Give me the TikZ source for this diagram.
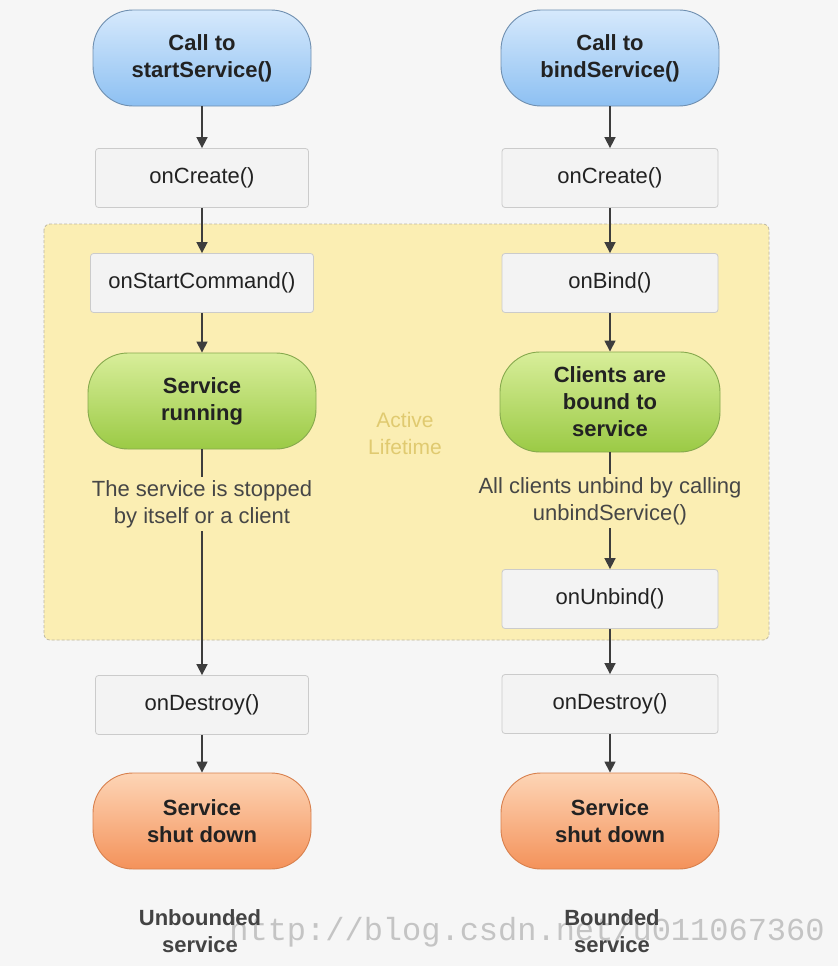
\documentclass[tikz,border=0pt]{standalone}
\usepackage{fontspec}
\setmainfont{Liberation Sans}
\newfontfamily\wmfont{Liberation Mono}
\usetikzlibrary{arrows.meta}

\definecolor{bgcol}{HTML}{F6F6F6}
\definecolor{boxfill}{HTML}{F3F3F3}
\definecolor{boxline}{HTML}{CBCBCB}
\definecolor{txt}{HTML}{222222}
\definecolor{note}{HTML}{464646}
\definecolor{flowcol}{HTML}{3D3D3D}
\definecolor{regionfill}{HTML}{FBEEB3}
\definecolor{regionline}{HTML}{BDB7A2}
\definecolor{regiontxt}{HTML}{E0CA70}
\definecolor{bluetop}{HTML}{D6E9FC}
\definecolor{bluebot}{HTML}{8DC0F2}
\definecolor{blueline}{HTML}{6F8FB0}
\definecolor{greentop}{HTML}{D8EE9A}
\definecolor{greenbot}{HTML}{9BCA45}
\definecolor{greenline}{HTML}{86A94D}
\definecolor{orangetop}{HTML}{FDD5B6}
\definecolor{orangebot}{HTML}{F4925A}
\definecolor{orangeline}{HTML}{D8804D}
\definecolor{wmcol}{HTML}{C4C4C4}

\tikzset{
  box/.style={rectangle,rounded corners=3pt,draw=boxline,line width=0.8pt,fill=boxfill,
    minimum width=213pt,minimum height=59pt,font=\fontsize{22}{27}\selectfont,text=txt},
  pill/.style={rectangle,rounded corners=40pt,line width=0.9pt,minimum width=218pt,
    minimum height=96pt,align=center,font=\fontsize{22}{27}\selectfont\bfseries,text=txt},
  startpill/.style={pill,draw=blueline,top color=bluetop,bottom color=bluebot},
  runpill/.style={pill,draw=greenline,top color=greentop,bottom color=greenbot},
  endpill/.style={pill,draw=orangeline,top color=orangetop,bottom color=orangebot},
  notetext/.style={align=center,font=\fontsize{22}{27}\selectfont,text=note},
  caption/.style={align=center,font=\fontsize{22}{27}\selectfont\bfseries,text=txt!85},
  flow/.style={draw=flowcol,line width=1.6pt},
  region/.style={draw=regionline,fill=regionfill,dashed,dash pattern=on 3pt off 2pt,
    line width=0.8pt,rounded corners=6pt}
}

\begin{document}
\begin{tikzpicture}[x=1pt,y=-1pt,>={Triangle[width=11pt,length=11pt]}]

%BACKGROUND
\fill[bgcol] (0,0) rectangle (838,966);
\useasboundingbox (0,0) rectangle (838,966);
\draw[region] (44,224) rectangle (769,640);
\node[text=regiontxt,align=center,font=\fontsize{21}{27}\selectfont](a1) at (405,433) {Active\\Lifetime};
%BACKGROUND

% started service
\node[startpill](v1) at (202,58) {Call to\\startService()};
\node[box](v2) at (202,178) {onCreate()};
\node[box,minimum width=223pt](v3) at (202,283) {onStartCommand()};
\node[runpill,minimum width=228pt](v4) at (202,401) {Service\\running};
\node[notetext](t1) at (202,504) {The service is stopped\\by itself or a client};
\node[box](v5) at (202,705) {onDestroy()};
\node[endpill](v6) at (202,821) {Service\\shut down};

% bound service
\node[startpill](w1) at (610,58) {Call to\\bindService()};
\node[box,minimum width=216pt](w2) at (610,178) {onCreate()};
\node[box,minimum width=216pt](w3) at (610,283) {onBind()};
\node[runpill,minimum width=220pt,minimum height=100pt](w4) at (610,402) {Clients are\\bound to\\service};
\node[notetext](t2) at (610,501) {All clients unbind by calling\\unbindService()};
\node[box,minimum width=216pt](w5) at (610,599) {onUnbind()};
\node[box,minimum width=216pt](w6) at (610,704) {onDestroy()};
\node[endpill](w7) at (610,821) {Service\\shut down};

%WATERMARK
\node[text=wmcol,font=\wmfont\fontsize{32}{32}\selectfont](m1) at (527,932) {http://blog.csdn.net/u011067360};
%WATERMARK

\node[caption](u1) at (200,931) {Unbounded\\service};
\node[caption](u2) at (612,931) {Bounded\\service};

\draw[->,flow] (v1) -- (v2);
\draw[->,flow] (v2) -- (v3);
\draw[->,flow] (v3) -- (v4);
\draw[flow] (v4) -- (t1);
\draw[->,flow] (t1) -- (v5);
\draw[->,flow] (v5) -- (v6);

\draw[->,flow] (w1) -- (w2);
\draw[->,flow] (w2) -- (w3);
\draw[->,flow] (w3) -- (w4);
\draw[flow] (w4) -- (t2);
\draw[->,flow] (t2) -- (w5);
\draw[->,flow] (w5) -- (w6);
\draw[->,flow] (w6) -- (w7);

\end{tikzpicture}
\end{document}
